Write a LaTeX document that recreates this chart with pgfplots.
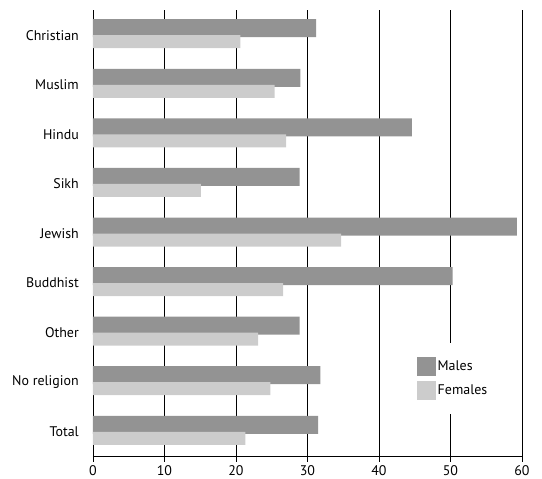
\documentclass[border=0pt]{standalone}
\usepackage{fontspec}
\setmainfont{PT Sans}
\usepackage{pgfplots}
\pgfplotsset{compat=1.18}
\definecolor{males}{RGB}{147,147,147}
\definecolor{females}{RGB}{204,204,204}
\begin{document}
\begin{tikzpicture}
\begin{axis}[
  scale only axis, width=429bp, height=446.2bp,
  xmin=0, xmax=60, ymin=-0.5, ymax=8.5,
  xtick={0,10,...,60}, ytick={0,...,8},
  yticklabels={Total,No religion,Other,Buddhist,Jewish,Sikh,Hindu,Muslim,Christian},
  axis x line*=bottom, axis y line*=left,
  axis line style={black, line width=0.8bp},
  xmajorgrids, grid style={black, line width=0.8bp},
  x tick style={black, line width=0.8bp},
  tick align=outside, major tick length=5bp,
  y tick style={draw=none},
  tick label style={font=\fontsize{14}{16}\selectfont},
  yticklabel style={inner sep=0pt, xshift=-9bp},
  /pgf/number format/assume math mode=true,
  legend style={draw=none, fill=white, at={(axis cs:50.35,1.075)}, anchor=center,
    font=\fontsize{14}{16}\selectfont, row sep=4.5bp, inner xsep=10bp, inner ysep=14bp},
  legend cell align=left,
  legend image code/.code={\fill[#1] (0bp,-9.5bp) rectangle (19bp,9.5bp);},
]
\addplot[xbar, bar width=18bp, bar shift=7bp, fill=males, draw=none]
  coordinates {(31.2,8) (29.0,7) (44.6,6) (28.9,5) (59.3,4) (50.3,3) (28.9,2) (31.8,1) (31.5,0)};
\addlegendentry{Males}
\addplot[xbar, bar width=13bp, bar shift=-6.5bp, fill=females, draw=none]
  coordinates {(20.6,8) (25.4,7) (27.0,6) (15.1,5) (34.7,4) (26.6,3) (23.1,2) (24.8,1) (21.3,0)};
\addlegendentry{Females}
\end{axis}
\path (current axis.south west) ++(-93bp,-20.4bp) rectangle ++(542bp,477bp);
\end{tikzpicture}
\end{document}
